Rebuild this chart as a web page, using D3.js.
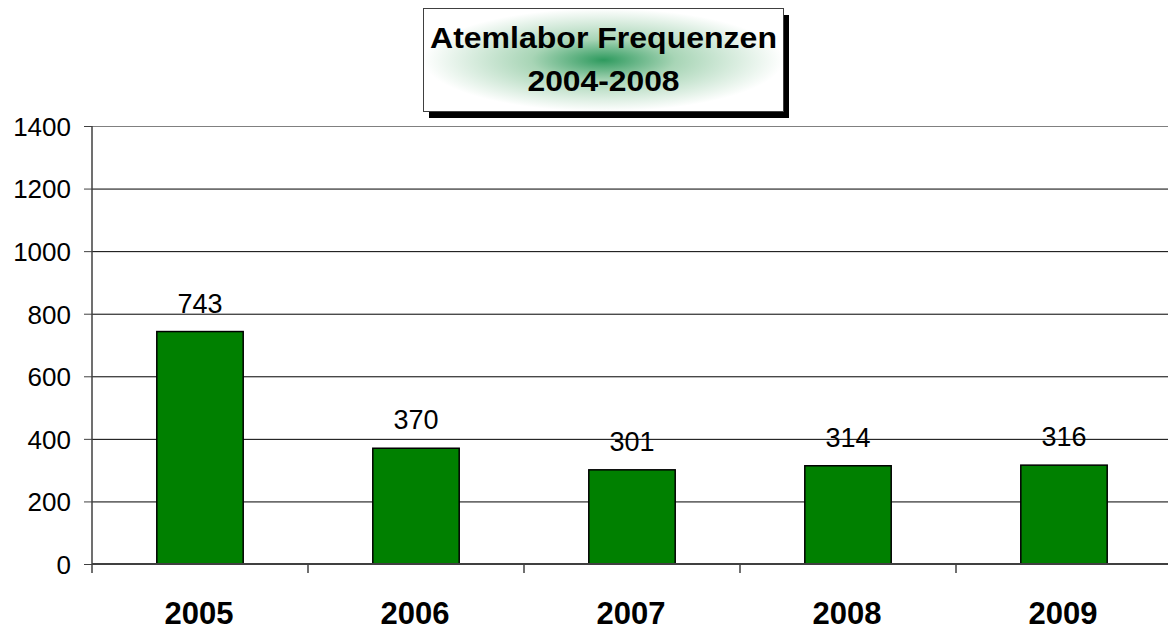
<!DOCTYPE html>
<html><head><meta charset="utf-8">
<script src="https://cdn.jsdelivr.net/npm/d3@7"></script>
<style>body{margin:0;background:#fff}svg{display:block}</style>
</head><body>
<svg id="c" width="1168" height="630"></svg>
<script>
const categories = ["2005","2006","2007","2008","2009"];
const values = [743, 370, 301, 314, 316];
const yTicks = [0,200,400,600,800,1000,1200,1400];
const titleLines = ["Atemlabor Frequenzen","2004-2008"];

const svg = d3.select("#c");
const font = "Liberation Sans, Arial, sans-serif";
const x = d3.scaleBand().domain(categories).range([92,1172]).paddingInner(0.6).paddingOuter(0.3);
const xTick = d3.scaleBand().domain(categories).range([92,1172]);
const y = d3.scaleLinear().domain([0,1400]).range([564,126]);

// gridlines
svg.append("g").selectAll("line").data(yTicks.filter(d=>d>0)).join("line")
  .attr("x1",92).attr("x2",1168).attr("y1",d=>y(d)+0.5).attr("y2",d=>y(d)+0.5)
  .attr("stroke",d=>d===1400?"#808080":"#000").attr("stroke-width",1);

// bars
svg.append("g").selectAll("rect").data(values).join("rect")
  .attr("x",(d,i)=>x(categories[i])).attr("width",x.bandwidth())
  .attr("y",d=>y(d)).attr("height",d=>y(0)-y(d))
  .attr("fill","#008000").attr("stroke","#000").attr("stroke-width",1.5);

// value labels
svg.append("g").selectAll("text").data(values).join("text")
  .attr("x",(d,i)=>x(categories[i])+x.bandwidth()/2).attr("y",d=>y(d)-19)
  .attr("text-anchor","middle").attr("font-family",font).attr("font-size",27).text(d=>d);

// y axis
const ya = svg.append("g").attr("transform","translate(92,0)")
  .call(d3.axisLeft(y).tickValues(yTicks).tickSize(8).tickPadding(13).tickFormat(d3.format("d")));
ya.select(".domain").attr("stroke","#404040").attr("stroke-width",1.5).attr("d","M0,126V564");
ya.selectAll(".tick line").attr("stroke","#404040");
ya.selectAll("text").attr("font-family",font).attr("font-size",26).attr("fill","#000").attr("dy","0.36em");

// x axis
const xa = svg.append("g").attr("transform","translate(0,564)");
xa.append("line").attr("x1",92).attr("x2",1168).attr("stroke","#404040").attr("stroke-width",2);
xa.selectAll(".t").data(categories).join("line").attr("class","t")
  .attr("x1",d=>xTick(d)).attr("x2",d=>xTick(d)).attr("y1",0).attr("y2",9)
  .attr("stroke","#404040").attr("stroke-width",1.5);
xa.selectAll("text").data(categories).join("text")
  .attr("x",d=>xTick(d)+xTick.bandwidth()/2-1).attr("y",60)
  .attr("text-anchor","middle").attr("font-family",font).attr("font-weight","bold")
  .attr("font-size",31).text(d=>d);

// title box
const defs = svg.append("defs");
const g = defs.append("radialGradient").attr("id","tg").attr("cx","50%").attr("cy","50%").attr("r","50%");
g.append("stop").attr("offset","0%").attr("stop-color","#2e9a5e");
g.append("stop").attr("offset","40%").attr("stop-color","#a8d5b6");
g.append("stop").attr("offset","100%").attr("stop-color","#ffffff");
svg.append("rect").attr("x",429).attr("y",15).attr("width",360).attr("height",103).attr("fill","#000");
svg.append("rect").attr("x",423.5).attr("y",8.5).attr("width",360).attr("height",103)
  .attr("fill","url(#tg)").attr("stroke","#404040").attr("stroke-width",1);
const titleWidths = [347, 152];
svg.append("g").selectAll("text").data(titleLines).join("text")
  .attr("x",(d,i)=>603.5-titleWidths[i]/2).attr("y",(d,i)=>48+i*43)
  .attr("textLength",(d,i)=>titleWidths[i]).attr("lengthAdjust","spacingAndGlyphs")
  .attr("font-family",font).attr("font-weight","bold").attr("font-size",30).text(d=>d);
</script>
</body></html>
